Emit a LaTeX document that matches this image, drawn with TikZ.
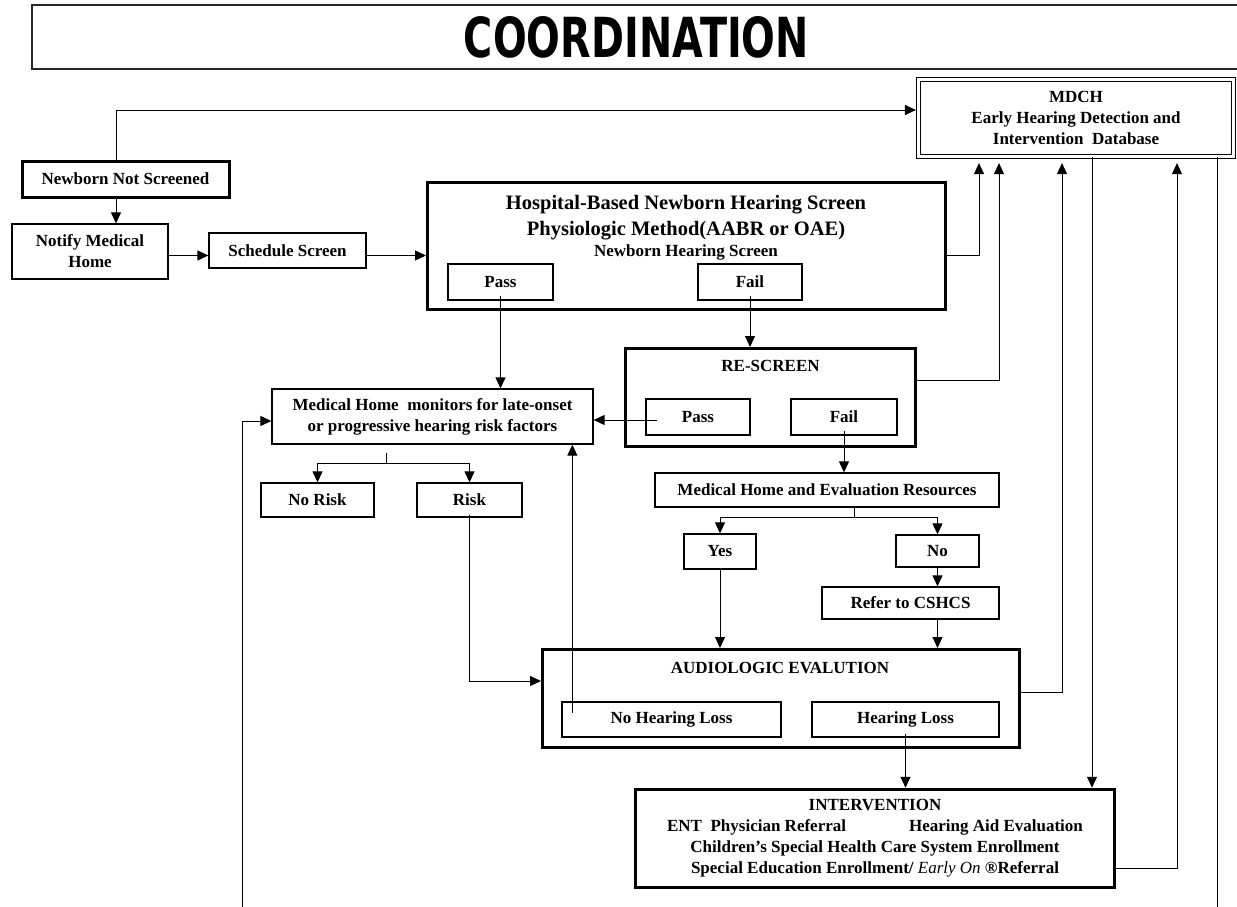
\documentclass[tikz,border=0pt]{standalone}
\usepackage{fontspec}
\setmainfont{Liberation Serif}
\newfontfamily\titlefont{DejaVu Sans}
\usepackage{graphicx}
\usetikzlibrary{arrows.meta}

\begin{document}
\begin{tikzpicture}[x=1pt, y=-1pt,
    box/.style={draw, line width=1.3pt, inner sep=0pt, align=center,
        font=\fontsize{17}{21}\selectfont\bfseries},
    bigbox/.style={box, line width=3pt},
    txt/.style={inner sep=0pt, align=center, font=\fontsize{17}{21}\selectfont\bfseries},
    wire/.style={line width=1pt},
    conn/.style={wire, -{Triangle[length=11pt,width=10pt]}}]
    \useasboundingbox (0,0) rectangle (1237,907);
    \clip (0,0) rectangle (1237,907);

    \node [box, draw=black!85, line width=1.8pt, minimum width=1209, minimum height=64] (coord) at (636.5,37)
        {\resizebox{345pt}{41pt}{\titlefont\bfseries COORDINATION}};
    \node [box, double, double distance=2.5pt, line width=1.2pt, minimum width=315, minimum height=77] (mdch) at (1076,118)
        {MDCH\\Early Hearing Detection and\\Intervention\ \ Database};

    \node [bigbox, minimum width=207, minimum height=36] (nbns) at (125.5,179) {Newborn Not Screened};
    \node [box, minimum width=156, minimum height=55] (notify) at (90,251.5) {Notify Medical\\Home};
    \node [box, minimum width=157, minimum height=35] (sched) at (287.5,250.5) {Schedule Screen};

    \node [bigbox, minimum width=518, minimum height=127] (hosp) at (686.5,246) {};
    \node [txt, font=\fontsize{20.5}{26}\selectfont\bfseries] (hosphead) at (686,218)
        {Hospital-Based Newborn Hearing Screen\\Physiologic Method(AABR or OAE)};
    \node [txt] (hospsub) at (686,252.5) {Newborn Hearing Screen};
    \node [box, minimum width=105, minimum height=36] (hpass) at (500.5,282) {Pass};
    \node [box, minimum width=104, minimum height=36] (hfail) at (750,282) {Fail};

    \node [box, minimum width=321, minimum height=55] (medhome) at (432.5,416.5)
        {Medical Home\ \ monitors for late-onset\\or progressive hearing risk factors};
    \node [bigbox, minimum width=290, minimum height=98] (rescreen) at (770.5,397.5) {};
    \node [txt] (rstitle) at (770.5,366) {RE-SCREEN};
    \node [box, minimum width=104, minimum height=36] (rspass) at (698,417) {Pass};
    \node [box, minimum width=106, minimum height=36] (rsfail) at (844,417) {Fail};

    \node [box, minimum width=113, minimum height=34] (norisk) at (317.5,500) {No Risk};
    \node [box, minimum width=105, minimum height=34] (risk) at (469.5,500) {Risk};
    \node [box, minimum width=344, minimum height=34] (medeval) at (827,490) {Medical Home and Evaluation Resources};
    \node [box, minimum width=72, minimum height=35] (yes) at (720,551.5) {Yes};
    \node [box, minimum width=83, minimum height=32] (no) at (937.5,551) {No};
    \node [box, minimum width=177, minimum height=32] (refer) at (910.5,603) {Refer to CSHCS};

    \node [bigbox, minimum width=477, minimum height=98] (audio) at (781,698.5) {};
    \node [txt] (audtitle) at (780,668) {AUDIOLOGIC EVALUTION};
    \node [box, minimum width=219, minimum height=35] (nhl) at (671.5,719.5) {No Hearing Loss};
    \node [box, minimum width=187, minimum height=35] (hl) at (905.5,719.5) {Hearing Loss};

    \node [bigbox, line width=3.5pt, minimum width=479, minimum height=98] (interv) at (875,838.5)
        {INTERVENTION\\ENT\ \ Physician Referral\hspace{63pt}Hearing Aid Evaluation\\
         Children’s Special Health Care System Enrollment\\
         Special Education Enrollment/ {\mdseries\itshape Early On} ®Referral};

    \coordinate (m1) at ([xshift=-97pt]mdch.south);
    \coordinate (m2) at ([xshift=-77pt]mdch.south);
    \coordinate (m3) at ([xshift=-14pt]mdch.south);
    \coordinate (m4) at ([xshift=16pt]mdch.south);
    \coordinate (m5) at ([xshift=101pt]mdch.south);
    \coordinate (m6) at ([xshift=141pt]mdch.south);
    \coordinate (leftend) at (242,907);
    \coordinate (rightend) at (1217,907);

    \draw [conn, shorten >=2pt] ([xshift=-9.5pt]nbns.north) |- ([yshift=8pt]mdch.west);
    \coordinate (nbx) at ([xshift=-9.5pt]nbns.south);
    \draw [conn] (nbx) -- (nbx |- notify.north);
    \coordinate (nty) at ([yshift=-4pt]notify.east);
    \draw [conn] (nty) -- (nty -| sched.west);
    \draw [conn] (nty -| sched.east) -- (nty -| hosp.west);

    \draw [conn, shorten >=6pt] ([yshift=-9pt]hosp.east) -| (m1);
    \coordinate (hpx) at ([yshift=5pt]hpass.south);
    \draw [conn] (hpx) -- (hpx |- medhome.north);
    \coordinate (hfx) at ([yshift=5pt]hfail.south);
    \draw [conn] (hfx) -- (hfx |- rescreen.north);

    \draw [conn, shorten >=6pt] ([yshift=17.5pt]rescreen.east) -| (m2);
    \coordinate (rspx) at ([xshift=12pt,yshift=-3pt]rspass.west);
    \draw [conn] (rspx) -- (rspx -| medhome.east);
    \draw [conn] (leftend) |- ([yshift=-4.5pt]medhome.west);

    \coordinate (mhstub) at ([xshift=-46.5pt,yshift=-8pt]medhome.south);
    \coordinate (mhsplit) at ([xshift=-46.5pt,yshift=-19pt]medhome.south);
    \draw [wire] (mhstub) -- (mhsplit);
    \draw [conn] (mhsplit) -| (norisk.north);
    \draw [conn] (mhsplit) -| (risk.north);
    \draw [conn] ([yshift=3pt]risk.south) |- ([yshift=17.5pt]audio.west);
    \coordinate (nhlx) at ([xshift=11pt,yshift=6.5pt]nhl.west);
    \draw [conn] (nhlx) -- (nhlx |- medhome.south);

    \coordinate (rsfx) at ([yshift=5pt]rsfail.south);
    \draw [conn] (rsfx) -- (rsfx |- medeval.north);
    \coordinate (evsplit) at ([xshift=27pt,yshift=-10pt]medeval.south);
    \draw [wire] ([xshift=27pt]medeval.south) -- (evsplit);
    \draw [conn] (evsplit) -| (yes.north);
    \draw [conn] (evsplit) -| (no.north);
    \draw [conn] (no.south) -- (no.south |- refer.north);
    \draw [conn] (no.south |- refer.south) -- (no.south |- audio.north);
    \draw [conn] (yes.south) -- (yes.south |- audio.north);

    \draw [conn, shorten >=6pt] ([yshift=6.5pt]audio.east) -| (m3);
    \coordinate (hlx) at ([yshift=4pt]hl.south);
    \draw [conn] (hlx) -- (hlx |- interv.north);
    \draw [conn] (m4) -- (m4 |- interv.north);
    \draw [conn, shorten >=6pt] ([yshift=-29.5pt]interv.east) -| (m5);
    \draw [wire] (m6) -- (m6 |- rightend);
\end{tikzpicture}
\end{document}
